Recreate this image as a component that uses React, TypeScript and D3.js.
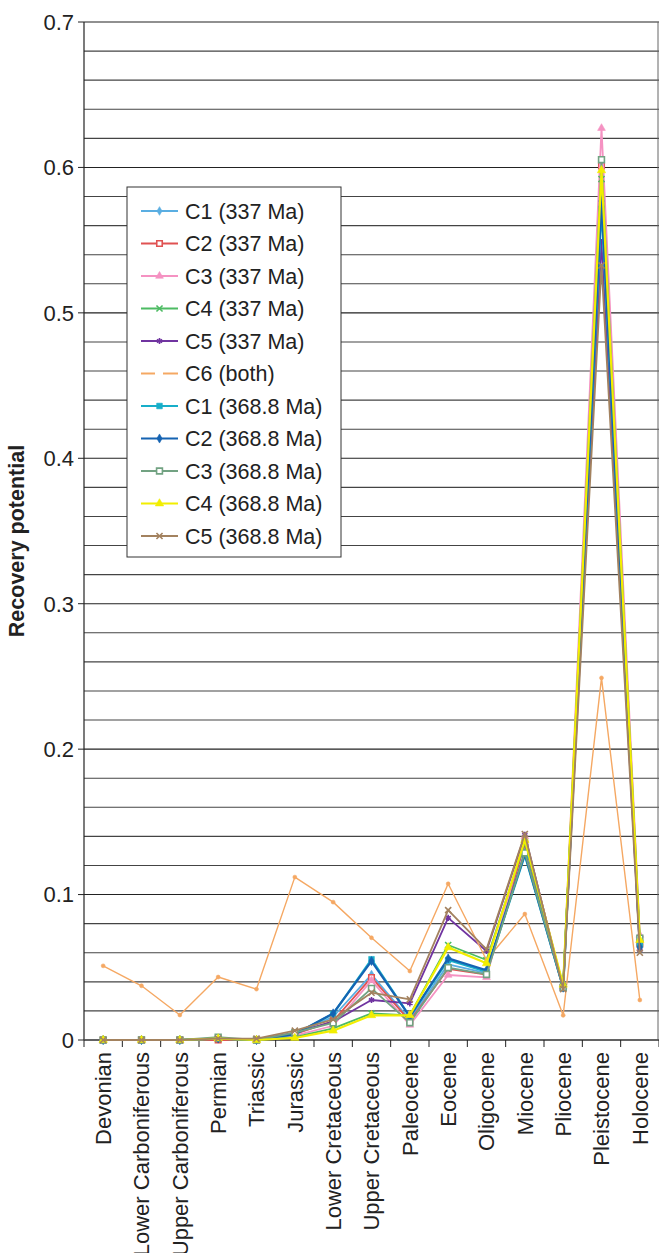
import React from "react";
import * as d3 from "d3";

const categories: string[] = [
  "Devonian", "Lower Carboniferous", "Upper Carboniferous", "Permian", "Triassic",
  "Jurassic", "Lower Cretaceous", "Upper Cretaceous", "Paleocene", "Eocene",
  "Oligocene", "Miocene", "Pliocene", "Pleistocene", "Holocene",
];

const yTicks: number[] = [0, 0.1, 0.2, 0.3, 0.4, 0.5, 0.6, 0.7];

// values
const c1_337 = [0, 0, 0, 0.001, 0, 0.004, 0.016, 0.045, 0.014, 0.052, 0.046, 0.13, 0.036, 0.59, 0.066];
const c2_337 = [0, 0, 0, 0, 0, 0.004, 0.013, 0.043, 0.013, 0.049, 0.045, 0.135, 0.036, 0.601, 0.066];
const c3_337 = [0, 0, 0, 0.001, 0, 0.003, 0.0098, 0.041, 0.0103, 0.0447, 0.0431, 0.14, 0.037, 0.627, 0.0722];
const c4_337 = [0, 0, 0, 0.001, 0, 0.002, 0.008, 0.0183, 0.017, 0.0653, 0.055, 0.136, 0.037, 0.592, 0.067];
const c5_337 = [0, 0, 0, 0.001, 0, 0.005, 0.0126, 0.0275, 0.0252, 0.084, 0.0612, 0.141, 0.036, 0.5487, 0.0619];
const c6_both = [0.051, 0.0373, 0.0172, 0.0433, 0.035, 0.112, 0.0948, 0.0703, 0.0474, 0.1074, 0.055, 0.0866, 0.017, 0.249, 0.0275];
const c1_368 = [0, 0, 0, 0.001, 0, 0.004, 0.018, 0.0555, 0.016, 0.055, 0.047, 0.127, 0.036, 0.5716, 0.0653];
const c2_368 = [0, 0, 0, 0.001, 0, 0.004, 0.0183, 0.0543, 0.016, 0.0561, 0.048, 0.128, 0.036, 0.5769, 0.064];
const c3_368 = [0, 0, 0, 0.002, 0, 0.005, 0.0117, 0.0355, 0.0119, 0.0497, 0.0451, 0.1287, 0.036, 0.6053, 0.07];
const c4_368 = [0, 0, 0, 0.001, 0, 0.0014, 0.0064, 0.017, 0.017, 0.0637, 0.0527, 0.1375, 0.038, 0.598, 0.0687];
const c5_368 = [0, 0, 0, 0.001, 0.001, 0.0064, 0.0142, 0.0325, 0.028, 0.0893, 0.0623, 0.1416, 0.035, 0.5326, 0.06];

interface Series {
  name: string;
  values: number[];
  color: string;
  symbol: d3.SymbolType;
  size: number;
  open?: boolean;
  stroked?: boolean;
  width: number;
  dashLegend?: boolean;
}

const series: Series[] = [
  {name: "C1 (337 Ma)", values: c1_337, color: "#5aaee2", symbol: d3.symbolDiamond, size: 22, width: 1.8},
  {name: "C2 (337 Ma)", values: c2_337, color: "#e05252", symbol: d3.symbolSquare, size: 30, open: true, width: 1.8},
  {name: "C3 (337 Ma)", values: c3_337, color: "#f592c2", symbol: d3.symbolTriangle, size: 26, width: 1.8},
  {name: "C4 (337 Ma)", values: c4_337, color: "#4dbb63", symbol: d3.symbolTimes, size: 26, stroked: true, width: 1.8},
  {name: "C5 (337 Ma)", values: c5_337, color: "#7034a0", symbol: d3.symbolAsterisk, size: 26, stroked: true, width: 1.8},
  {name: "C6 (both)", values: c6_both, color: "#f5a863", symbol: d3.symbolCircle, size: 12, width: 1.4, dashLegend: true},
  {name: "C1 (368.8 Ma)", values: c1_368, color: "#17aec9", symbol: d3.symbolSquare, size: 32, width: 2.2},
  {name: "C2 (368.8 Ma)", values: c2_368, color: "#1563b2", symbol: d3.symbolDiamond, size: 24, width: 2.2},
  {name: "C3 (368.8 Ma)", values: c3_368, color: "#72a282", symbol: d3.symbolSquare, size: 34, open: true, width: 1.8},
  {name: "C4 (368.8 Ma)", values: c4_368, color: "#f2ee00", symbol: d3.symbolTriangle, size: 30, width: 2.2},
  {name: "C5 (368.8 Ma)", values: c5_368, color: "#a3825f", symbol: d3.symbolTimes, size: 26, stroked: true, width: 1.8},
];

const W = 659;
const H = 1253;
const margin = {left: 84, top: 22, right: 0, bottom: 213};
const font = "'Liberation Sans', Arial, sans-serif";

function Marker({s, x, y}: {s: Series; x: number; y: number}) {
  const d = d3.symbol().type(s.symbol).size(s.size)() || "";
  if (s.stroked) {
    return <path d={d} transform={`translate(${x},${y})`} fill="none" stroke={s.color} strokeWidth={1.6} />;
  }
  if (s.open) {
    return <path d={d} transform={`translate(${x},${y})`} fill="#fff" stroke={s.color} strokeWidth={1.6} />;
  }
  return <path d={d} transform={`translate(${x},${y})`} fill={s.color} stroke={s.color} strokeWidth={0.6} />;
}

export default function App(): React.ReactElement {
  const x = d3.scaleBand<string>().domain(categories).range([margin.left, W - margin.right]);
  const y = d3.scaleLinear().domain([0, 0.7]).range([H - margin.bottom, margin.top]);
  const gridVals = d3.range(0, 36).map((i) => i * 0.02);
  const cx = (c: string) => (x(c) as number) + x.bandwidth() / 2;
  const line = d3.line<number>().x((_, i) => cx(categories[i])).y((v) => y(v));

  const legX = 127, legY = 187, legW = 214, legH = 370, rowH = 32.5;

  return (
    <svg width={W} height={H} style={{position: "absolute", left: 0, top: 0, background: "#fff"}}
         fontFamily={font}>
      {gridVals.map((v) => (
        <line key={v} x1={margin.left} x2={W - margin.right} y1={y(v)} y2={y(v)}
              stroke={Math.round(v * 100) % 10 === 0 ? "#222" : "#444"} strokeWidth={1.1} />
      ))}
      <line x1={W - 1} x2={W - 1} y1={margin.top} y2={y(0)} stroke="#666" strokeWidth={1} />
      <line x1={margin.left} x2={margin.left} y1={margin.top} y2={y(0)} stroke="#222" strokeWidth={1.2} />
      <line x1={margin.left} x2={W} y1={y(0)} y2={y(0)} stroke="#555" strokeWidth={1.4} />
      {yTicks.map((t) => (
        <g key={t}>
          <line x1={margin.left - 6} x2={margin.left} y1={y(t)} y2={y(t)} stroke="#222" />
          <text x={margin.left - 10} y={y(t)} dy="0.36em" textAnchor="end" fontSize={22} fill="#222">
            {t === 0 ? "0" : t.toFixed(1)}
          </text>
        </g>
      ))}
      {categories.concat([""]).map((c, i) => {
        const xx = margin.left + i * x.bandwidth();
        return <line key={"t" + i} x1={xx} x2={xx} y1={y(0)} y2={y(0) + 7} stroke="#222" />;
      })}
      {categories.map((c) => (
        <text key={c} transform={`translate(${cx(c)},${y(0) + 12}) rotate(-90)`} textAnchor="end" dy="0.36em"
              fontSize={22} fill="#222">{c}</text>
      ))}
      <text transform={`translate(24,${(y(0) + y(0.7)) / 2 + 10}) rotate(-90)`} textAnchor="middle"
            fontSize={21.5} fontWeight="bold" fill="#222">Recovery potential</text>

      {series.map((s) => (
        <g key={s.name}>
          <path d={line(s.values) || ""} fill="none" stroke={s.color} strokeWidth={s.width}
                strokeLinejoin="round" />
          {s.values.map((v, i) => (
            <Marker key={i} s={s} x={cx(categories[i])} y={y(v)} />
          ))}
        </g>
      ))}

      <rect x={legX} y={legY} width={legW} height={legH} fill="#fff" stroke="#333" strokeWidth={1} />
      {series.map((s, i) => {
        const ry = legY + 24 + i * rowH;
        return (
          <g key={"l" + s.name}>
            {s.dashLegend ? (
              <>
                <line x1={141} x2={155} y1={ry} y2={ry} stroke={s.color} strokeWidth={2} />
                <line x1={163} x2={178} y1={ry} y2={ry} stroke={s.color} strokeWidth={2} />
              </>
            ) : (
              <line x1={141} x2={178} y1={ry} y2={ry} stroke={s.color} strokeWidth={2} />
            )}
            {!s.dashLegend && <Marker s={s} x={159.5} y={ry} />}
            <text x={185} y={ry} dy="0.36em" fontSize={21.5} fill="#222">{s.name}</text>
          </g>
        );
      })}
    </svg>
  );
}
